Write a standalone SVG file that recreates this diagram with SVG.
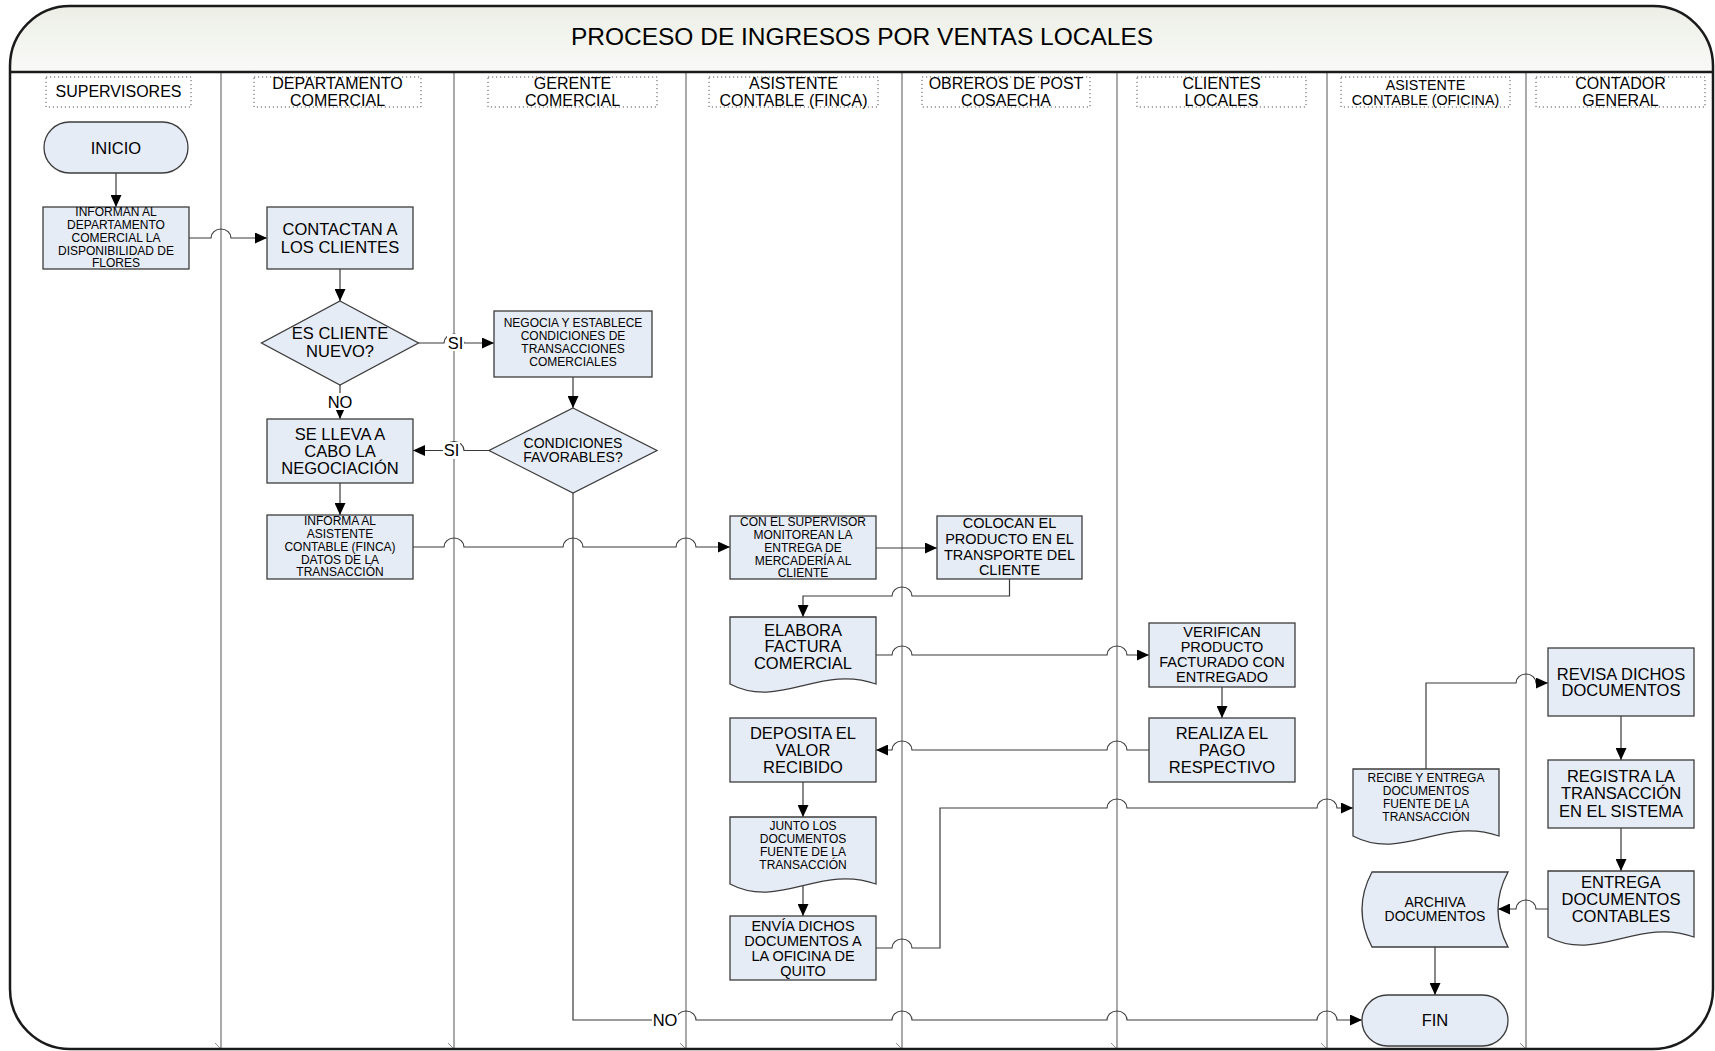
<svg xmlns="http://www.w3.org/2000/svg" width="1715" height="1051" viewBox="0 0 1715 1051">
<style>
text{font-family:"Liberation Sans",Arial,sans-serif;fill:#000;text-anchor:middle}
.t16{font-size:16.5px}
.t14{font-size:14.5px}
.t12{font-size:12px}
.h16{font-size:16px}
.node{fill:#e6ecf6;stroke:#3c3c3c;stroke-width:1.3}
.lane{stroke:#858585;stroke-width:1.4;fill:none}
.hdr{fill:none;stroke:#555;stroke-width:1;stroke-dasharray:1.2 2.8}
.conn path{fill:none;stroke:#3a3a3a;stroke-width:1.2}
.lbl{fill:#fff;stroke:none}
</style>
<defs>
<linearGradient id="hg" x1="0" y1="0" x2="0" y2="1">
<stop offset="0" stop-color="#eceee6"/>
<stop offset="1" stop-color="#f9faf7"/>
</linearGradient>
<marker id="ah" markerUnits="userSpaceOnUse" markerWidth="13" markerHeight="11" refX="12" refY="5.5" orient="auto">
<path d="M0,0 L12,5.5 L0,11 Z" fill="#000"/>
</marker>
</defs>
<rect x="0" y="0" width="1715" height="1051" fill="#fff"/>
<g id="frame">
<path d="M10,72 V66 A60,60 0 0 1 70,6 H1653 A60,60 0 0 1 1713,66 V72 Z" fill="url(#hg)"/>
<g class="lane">
<line x1="221" y1="72" x2="221" y2="1049"/>
<line x1="454" y1="72" x2="454" y2="1049"/>
<line x1="686" y1="72" x2="686" y2="1049"/>
<line x1="902" y1="72" x2="902" y2="1049"/>
<line x1="1117" y1="72" x2="1117" y2="1049"/>
<line x1="1327" y1="72" x2="1327" y2="1049"/>
<line x1="1526" y1="72" x2="1526" y2="1049"/>
</g>
<g stroke="#777" stroke-width="0.8">
<line x1="215" y1="1043" x2="220" y2="1048"/>
<line x1="448" y1="1043" x2="453" y2="1048"/>
<line x1="680" y1="1043" x2="685" y2="1048"/>
<line x1="896" y1="1043" x2="901" y2="1048"/>
<line x1="1111" y1="1043" x2="1116" y2="1048"/>
<line x1="1321" y1="1043" x2="1326" y2="1048"/>
<line x1="1520" y1="1043" x2="1525" y2="1048"/>
</g>
<path d="M10,66 A60,60 0 0 1 70,6 H1653 A60,60 0 0 1 1713,66 V989 A60,60 0 0 1 1653,1049 H70 A60,60 0 0 1 10,989 Z" fill="none" stroke="#1a1a1a" stroke-width="2.5"/>
<line x1="10" y1="72" x2="1713" y2="72" stroke="#1a1a1a" stroke-width="2.5"/>
<text x="862" y="44.5" style="font-size:24.5px">PROCESO DE INGRESOS POR VENTAS LOCALES</text>
</g>
<g id="lanes">
<g id="lane-supervisores"><rect class="hdr" x="46" y="77" width="145" height="30"/><text class="h16" x="118.5" y="97">SUPERVISORES</text></g>
<g id="lane-depto"><rect class="hdr" x="254" y="77" width="167" height="30"/><text class="h16" x="337.5" y="88.5">DEPARTAMENTO</text><text class="h16" x="337.5" y="106">COMERCIAL</text></g>
<g id="lane-gerente"><rect class="hdr" x="488" y="77" width="169" height="30"/><text class="h16" x="572.5" y="88.5">GERENTE</text><text class="h16" x="572.5" y="106">COMERCIAL</text></g>
<g id="lane-asist-finca"><rect class="hdr" x="709" y="77" width="169" height="30"/><text class="h16" x="793.5" y="88.5">ASISTENTE</text><text class="h16" x="793.5" y="106">CONTABLE (FINCA)</text></g>
<g id="lane-obreros"><rect class="hdr" x="922" y="77" width="168" height="30"/><text class="h16" x="1006" y="88.5">OBREROS DE POST</text><text class="h16" x="1006" y="106">COSAECHA</text></g>
<g id="lane-clientes"><rect class="hdr" x="1137" y="77" width="169" height="30"/><text class="h16" x="1221.5" y="88.5">CLIENTES</text><text class="h16" x="1221.5" y="106">LOCALES</text></g>
<g id="lane-asist-oficina"><rect class="hdr" x="1341" y="77" width="169" height="30"/><text x="1425.5" y="89.5" style="font-size:14.3px">ASISTENTE</text><text x="1425.5" y="105" style="font-size:14.3px">CONTABLE (OFICINA)</text></g>
<g id="lane-contador"><rect class="hdr" x="1536" y="77" width="169" height="30"/><text class="h16" x="1620.5" y="88.5">CONTADOR</text><text class="h16" x="1620.5" y="106">GENERAL</text></g>
</g>
<g id="connectors" class="conn">
<path d="M116,173 V207" marker-end="url(#ah)"/>
<path d="M189,238 H211 A10,9 0 0 1 231,238 H267" marker-end="url(#ah)"/>
<path d="M340,269 V301" marker-end="url(#ah)"/>
<path d="M418.5,343 H444 A10,9 0 0 1 464,343 H494" marker-end="url(#ah)"/>
<path d="M573,377 V408" marker-end="url(#ah)"/>
<path d="M489,450.5 H464 A10,9 0 0 0 444,450.5 H413" marker-end="url(#ah)"/>
<path d="M340,385 V419" marker-end="url(#ah)"/>
<path d="M340,483 V515" marker-end="url(#ah)"/>
<path d="M413,547 H444 A10,9 0 0 1 464,547 H563 A10,9 0 0 1 583,547 H676 A10,9 0 0 1 696,547 H730" marker-end="url(#ah)"/>
<path d="M876,548 H937" marker-end="url(#ah)"/>
<path d="M1009.5,579 V596 H912 A10,9 0 0 0 892,596 H803 V617" marker-end="url(#ah)"/>
<path d="M876,655 H892 A10,9 0 0 1 912,655 H1107 A10,9 0 0 1 1127,655 H1149" marker-end="url(#ah)"/>
<path d="M1222,687 V718" marker-end="url(#ah)"/>
<path d="M1149,750 H1127 A10,9 0 0 0 1107,750 H912 A10,9 0 0 0 892,750 H876" marker-end="url(#ah)"/>
<path d="M803,782 V817" marker-end="url(#ah)"/>
<path d="M803,886 V916" marker-end="url(#ah)"/>
<path d="M876,948 H892 A10,9 0 0 1 912,948 H940 V808 H1107 A10,9 0 0 1 1127,808 H1317 A10,9 0 0 1 1337,808 H1353" marker-end="url(#ah)"/>
<path d="M1426,769 V683 H1516 A10,9 0 0 1 1536,683 H1548" marker-end="url(#ah)"/>
<path d="M1621,716 V760" marker-end="url(#ah)"/>
<path d="M1621,828 V871" marker-end="url(#ah)"/>
<path d="M1548,909 H1536 A10,9 0 0 0 1516,909 H1498" marker-end="url(#ah)"/>
<path d="M1435,947 V995" marker-end="url(#ah)"/>
<path d="M573,493 V1020 H676 A10,9 0 0 1 696,1020 H892 A10,9 0 0 1 912,1020 H1107 A10,9 0 0 1 1127,1020 H1317 A10,9 0 0 1 1337,1020 H1362" marker-end="url(#ah)"/>
<rect class="lbl" x="447" y="334" width="17" height="17"/>
<text class="t16" x="455.5" y="348.5">SI</text>
<rect class="lbl" x="443" y="442" width="17" height="17"/>
<text class="t16" x="451.5" y="456">SI</text>
<rect class="lbl" x="327" y="393" width="26" height="17"/>
<text class="t16" x="340" y="407.5">NO</text>
<rect class="lbl" x="652" y="1011" width="26" height="17"/>
<text class="t16" x="665" y="1026">NO</text>
</g>
<g id="n-inicio"><rect class="node" x="44" y="122" width="144" height="51" rx="25.5"/><text class="t16" x="116" y="153.5">INICIO</text></g>
<g id="n-informan"><rect class="node" x="43" y="207" width="146" height="62"/>
<text class="t12" x="116" y="216.3">INFORMAN AL</text><text class="t12" x="116" y="229">DEPARTAMENTO</text><text class="t12" x="116" y="241.8">COMERCIAL LA</text><text class="t12" x="116" y="254.5">DISPONIBILIDAD DE</text><text class="t12" x="116" y="267.3">FLORES</text></g>
<g id="n-contactan"><rect class="node" x="267" y="207" width="146" height="62"/>
<text class="t16" x="340" y="234.8">CONTACTAN A</text><text class="t16" x="340" y="252.8">LOS CLIENTES</text></g>
<g id="n-escliente"><path class="node" d="M340,301 L418.5,343 L340,385 L261.5,343 Z"/>
<text class="t16" x="340" y="338.5">ES CLIENTE</text><text class="t16" x="340" y="357.3">NUEVO?</text></g>
<g id="n-negocia"><rect class="node" x="494" y="311" width="158" height="66"/>
<text class="t12" x="573" y="327.3">NEGOCIA Y ESTABLECE</text><text class="t12" x="573" y="340.3">CONDICIONES DE</text><text class="t12" x="573" y="353.3">TRANSACCIONES</text><text class="t12" x="573" y="366.3">COMERCIALES</text></g>
<g id="n-condiciones"><path class="node" d="M573,408 L657,450.5 L573,493 L489,450.5 Z"/>
<text x="573" y="447.8" style="font-size:14px">CONDICIONES</text><text x="573" y="461.8" style="font-size:14px">FAVORABLES?</text></g>
<g id="n-sellevа"><rect class="node" x="267" y="419" width="146" height="64"/>
<text class="t16" x="340" y="439.8">SE LLEVA A</text><text class="t16" x="340" y="456.8">CABO LA</text><text class="t16" x="340" y="473.8">NEGOCIACIÓN</text></g>
<g id="n-informa"><rect class="node" x="267" y="515" width="146" height="64"/>
<text class="t12" x="340" y="525.3">INFORMA AL</text><text class="t12" x="340" y="538.3">ASISTENTE</text><text class="t12" x="340" y="551.3">CONTABLE (FINCA)</text><text class="t12" x="340" y="563.8">DATOS DE LA</text><text class="t12" x="340" y="576.3">TRANSACCIÓN</text></g>
<g id="n-conel"><rect class="node" x="730" y="516" width="146" height="63"/>
<text class="t12" x="803" y="526.3">CON EL SUPERVISOR</text><text class="t12" x="803" y="539.3">MONITOREAN LA</text><text class="t12" x="803" y="552.3">ENTREGA DE</text><text class="t12" x="803" y="564.8">MERCADERÍA AL</text><text class="t12" x="803" y="577.3">CLIENTE</text></g>
<g id="n-colocan"><rect class="node" x="937" y="516" width="145" height="63"/>
<text class="t14" x="1009.5" y="528.1">COLOCAN EL</text><text class="t14" x="1009.5" y="544.1">PRODUCTO EN EL</text><text class="t14" x="1009.5" y="559.6">TRANSPORTE DEL</text><text class="t14" x="1009.5" y="575.1">CLIENTE</text></g>
<g id="n-elabora"><path class="node" d="M730,617 H876 V684 C820.5,664 779.6,710 730,684 Z"/>
<text class="t16" x="803" y="635.8">ELABORA</text><text class="t16" x="803" y="651.8">FACTURA</text><text class="t16" x="803" y="668.8">COMERCIAL</text></g>
<g id="n-verifican"><rect class="node" x="1149" y="623" width="146" height="64"/>
<text class="t14" x="1222" y="637.1">VERIFICAN</text><text class="t14" x="1222" y="652.1">PRODUCTO</text><text class="t14" x="1222" y="667.1">FACTURADO CON</text><text class="t14" x="1222" y="682.1">ENTREGADO</text></g>
<g id="n-realiza"><rect class="node" x="1149" y="718" width="146" height="64"/>
<text class="t16" x="1222" y="738.8">REALIZA EL</text><text class="t16" x="1222" y="755.8">PAGO</text><text class="t16" x="1222" y="772.8">RESPECTIVO</text></g>
<g id="n-deposita"><rect class="node" x="730" y="718" width="146" height="64"/>
<text class="t16" x="803" y="738.8">DEPOSITA EL</text><text class="t16" x="803" y="755.8">VALOR</text><text class="t16" x="803" y="772.8">RECIBIDO</text></g>
<g id="n-junto"><path class="node" d="M730,817 H876 V884 C820.5,864 779.6,910 730,884 Z"/>
<text class="t12" x="803" y="830.3">JUNTO LOS</text><text class="t12" x="803" y="843.3">DOCUMENTOS</text><text class="t12" x="803" y="856.3">FUENTE DE LA</text><text class="t12" x="803" y="869.3">TRANSACCIÓN</text></g>
<g id="n-envia"><rect class="node" x="730" y="916" width="146" height="64"/>
<text class="t14" x="803" y="931.1">ENVÍA DICHOS</text><text class="t14" x="803" y="946.1">DOCUMENTOS A</text><text class="t14" x="803" y="961.1">LA OFICINA DE</text><text class="t14" x="803" y="976.1">QUITO</text></g>
<g id="n-recibe"><path class="node" d="M1353,769 H1499 V836 C1443.5,816 1402.6,862 1353,836 Z"/>
<text class="t12" x="1426" y="782.3">RECIBE Y ENTREGA</text><text class="t12" x="1426" y="795.3">DOCUMENTOS</text><text class="t12" x="1426" y="807.8">FUENTE DE LA</text><text class="t12" x="1426" y="820.8">TRANSACCIÓN</text></g>
<g id="n-revisa"><rect class="node" x="1548" y="648" width="146" height="68"/>
<text class="t16" x="1621" y="679.8">REVISA DICHOS</text><text class="t16" x="1621" y="695.8">DOCUMENTOS</text></g>
<g id="n-registra"><rect class="node" x="1548" y="760" width="146" height="68"/>
<text class="t16" x="1621" y="781.8">REGISTRA LA</text><text class="t16" x="1621" y="798.8">TRANSACCIÓN</text><text class="t16" x="1621" y="816.8">EN EL SISTEMA</text></g>
<g id="n-entrega"><path class="node" d="M1548,871 H1694 V937 C1638.5,917 1597.6,963 1548,937 Z"/>
<text class="t16" x="1621" y="887.8">ENTREGA</text><text class="t16" x="1621" y="904.8">DOCUMENTOS</text><text class="t16" x="1621" y="921.8">CONTABLES</text></g>
<g id="n-archiva"><path class="node" d="M1372,872 H1508 Q1488,909.5 1508,947 H1372 Q1352,909.5 1372,872 Z"/>
<text x="1435" y="907" style="font-size:14px">ARCHIVA</text><text x="1435" y="921" style="font-size:14px">DOCUMENTOS</text></g>
<g id="n-fin"><rect class="node" x="1362" y="995" width="146" height="51" rx="25.5"/><text class="t16" x="1435" y="1026.3">FIN</text></g>
</svg>
